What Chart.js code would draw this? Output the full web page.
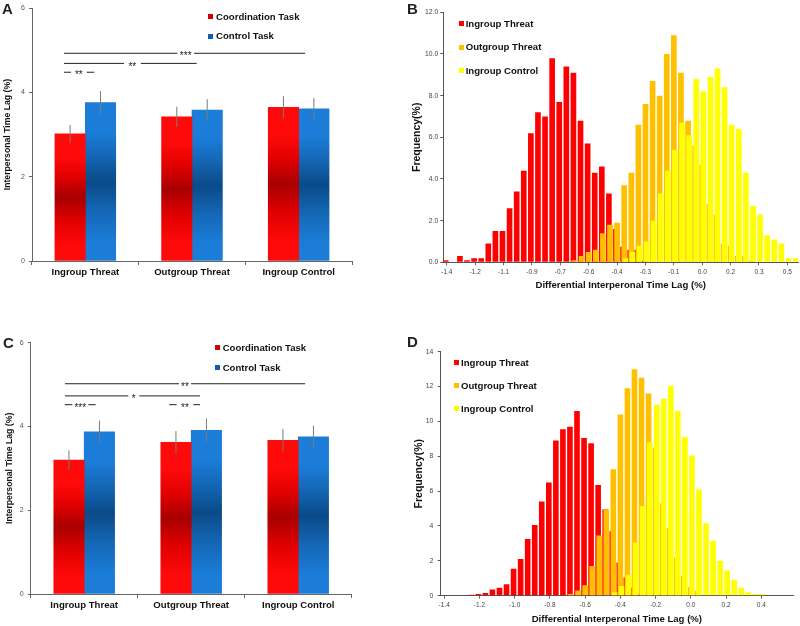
<!DOCTYPE html>
<html>
<head>
<meta charset="utf-8">
<script src="https://cdn.jsdelivr.net/npm/chart.js@4.4.1/dist/chart.umd.min.js"></script>
<style>
  html, body { margin: 0; padding: 0; background: #ffffff; }
  #wrap { position: relative; width: 800px; height: 626px; overflow: hidden; font-family: 'Liberation Sans', Arial, sans-serif; }
  #wrap canvas { position: absolute; }
  .txt { position: absolute; white-space: nowrap; }
  .sq { position: absolute; }
</style>
</head>
<body>
<div id="wrap">
  <canvas id="cA" width="400" height="300" style="left:0px;top:0px;"></canvas>
  <canvas id="cB" width="400" height="300" style="left:400px;top:0px;"></canvas>
  <canvas id="cC" width="400" height="316" style="left:0px;top:310px;"></canvas>
  <canvas id="cD" width="400" height="316" style="left:400px;top:310px;"></canvas>
</div>
<script>
// ---------------- DATA ----------------
const groups = ['Ingroup Threat', 'Outgroup Threat', 'Ingroup Control'];

// Panel A
const coordA = [3.02, 3.42, 3.65];
const controlA = [3.76, 3.58, 3.61];
const coordErrA = [0.21, 0.24, 0.26];
const controlErrA = [0.27, 0.26, 0.26];
const sigA = [
  { y: 4.93, x1: -0.20, gap1: 0.862, gap2: 1.020, x2: 2.060, label: '***' },
  { y: 4.69, x1: -0.20, gap1: 0.362, gap2: 0.520, x2: 1.044, label: '**' },
  { y: 4.48, x1: -0.20, gap1: -0.134, gap2: 0.013, x2: 0.084, label: '**' }
];

// Panel C
const coordC = [3.20, 3.62, 3.67];
const controlC = [3.87, 3.91, 3.75];
const coordErrC = [0.23, 0.27, 0.27];
const controlErrC = [0.27, 0.28, 0.27];
const sigC = [
  { y: 5.02, x1: -0.18, gap1: 0.886, gap2: 0.998, x2: 2.064, label: '**' },
  { y: 4.73, x1: -0.18, gap1: 0.412, gap2: 0.515, x2: 1.082, label: '*' },
  { y: 4.52, x1: -0.18, gap1: -0.111, gap2: 0.038, x2: 0.107, label: '***' },
  { y: 4.52, x1: 0.795, gap1: 0.864, gap2: 1.020, x2: 1.082, label: '**' }
];

// Panel B (histogram bins, %)
const binsB = [-1.370, -1.331, -1.292, -1.253, -1.214, -1.175, -1.136, -1.097, -1.058, -1.019,
  -0.980, -0.941, -0.902, -0.863, -0.824, -0.785, -0.746, -0.707, -0.668, -0.629,
  -0.590, -0.551, -0.512, -0.473, -0.434, -0.395, -0.356, -0.317, -0.278, -0.239,
  -0.200, -0.161, -0.122, -0.083, -0.044, -0.005, 0.034, 0.073, 0.112, 0.151,
  0.190, 0.229, 0.268, 0.307, 0.346, 0.385, 0.424, 0.463, 0.502, 0.541];
const ingroupThreatB = [0.1, 0, 0.3, 0.1, 0.2, 0.2, 0.9, 1.5, 1.5, 2.6,
  3.4, 4.4, 6.2, 7.2, 7.0, 9.8, 7.7, 9.4, 9.1, 6.8,
  5.7, 4.3, 4.6, 3.3, 1.6, 0.75, 0.6, 0.6, 0.1, 0,
  0, 0, 0, 0, 0, 0, 0, 0, 0, 0,
  0, 0, 0, 0, 0, 0, 0, 0, 0, 0];
const outgroupThreatB = [0, 0, 0, 0, 0, 0, 0, 0, 0, 0,
  0, 0, 0, 0, 0, 0, 0, 0, 0.1, 0.3,
  0.5, 0.6, 1.4, 1.8, 1.9, 3.7, 4.3, 6.6, 7.6, 8.7,
  8.0, 10.0, 10.9, 9.1, 6.8, 5.6, 4.7, 2.8, 2.3, 0.9,
  0.8, 0.3, 0.3, 0.1, 0, 0, 0, 0, 0, 0];
const ingroupControlB = [0, 0, 0, 0, 0, 0, 0, 0, 0, 0,
  0, 0, 0, 0, 0, 0, 0, 0, 0, 0,
  0, 0, 0, 0, 0, 0.2, 0.5, 0.8, 1.0, 2.0,
  3.3, 4.4, 5.4, 6.7, 6.1, 8.8, 8.2, 8.9, 9.3, 8.4,
  6.6, 6.4, 4.3, 2.7, 2.3, 1.3, 1.1, 0.9, 0.2, 0.2];
const tickEveryB = 4;

// Panel D (histogram bins, %)
const binsD = [-1.40, -1.36, -1.32, -1.28, -1.24, -1.20, -1.16, -1.12, -1.08, -1.04,
  -1.00, -0.96, -0.92, -0.88, -0.84, -0.80, -0.76, -0.72, -0.68, -0.64,
  -0.60, -0.56, -0.52, -0.48, -0.44, -0.40, -0.36, -0.32, -0.28, -0.24,
  -0.20, -0.16, -0.12, -0.08, -0.04, 0.00, 0.04, 0.08, 0.12, 0.16,
  0.20, 0.24, 0.28, 0.32, 0.36, 0.40, 0.44, 0.48, 0.52, 0.56];
const ingroupThreatD = [0, 0, 0, 0, 0.05, 0.1, 0.15, 0.35, 0.45, 0.65,
  1.55, 2.1, 3.25, 4.05, 5.4, 6.5, 8.9, 9.55, 9.7, 10.6,
  9.05, 8.75, 6.35, 4.95, 3.7, 1.9, 1.05, 0.45, 0.1, 0,
  0, 0, 0, 0, 0, 0, 0, 0, 0, 0,
  0, 0, 0, 0, 0, 0, 0, 0, 0, 0];
const outgroupThreatD = [0, 0, 0, 0, 0, 0, 0, 0, 0, 0,
  0, 0, 0, 0, 0, 0, 0, 0, 0.1, 0.3,
  0.6, 1.7, 3.45, 4.95, 7.25, 10.4, 11.9, 13.0, 12.5, 11.6,
  8.5, 5.3, 3.9, 2.2, 1.15, 0.5, 0.3, 0, 0, 0,
  0, 0, 0, 0, 0, 0, 0, 0, 0, 0];
const ingroupControlD = [0, 0, 0, 0, 0, 0, 0, 0, 0, 0,
  0, 0, 0, 0, 0, 0, 0, 0, 0, 0,
  0, 0, 0, 0, 0.2, 0.55, 1.2, 3.05, 5.15, 8.8,
  10.95, 11.3, 12.05, 10.6, 9.1, 8.05, 6.1, 4.15, 3.15, 2.0,
  1.45, 0.9, 0.45, 0.2, 0.1, 0.1, 0, 0, 0, 0];
const tickEveryD = 5;

const histSeries = ['Ingroup Threat', 'Outgroup Threat', 'Ingroup Control'];
const taskSeries = ['Coordination Task', 'Control Task'];

// ---------------- STYLE ----------------
const FONT = "'Liberation Sans', Arial, sans-serif";
const RED = '#ff0000', ORANGE = '#ffc000', YELLOW = '#ffff00';
const AXIS = '#666666';
const CAT_PCT = 0.57;           // share of each category taken by the bar pair
const BAR_W = 30.4;             // bar thickness in px
Chart.defaults.font.family = FONT;

function gradientFill(light, mid, dark) {
  return function (c) {
    const chart = c.chart;
    const ys = chart.scales ? chart.scales.y : null;
    if (c.type !== 'data' || !ys || typeof c.raw !== 'number') return light;
    const top = ys.getPixelForValue(c.raw);
    const base = ys.getPixelForValue(0);
    if (!isFinite(top) || !isFinite(base) || base - top < 1) return light;
    const g = chart.ctx.createLinearGradient(0, top, 0, base);
    g.addColorStop(0, light);
    g.addColorStop(0.18, light);
    g.addColorStop(0.34, mid);
    g.addColorStop(0.5, dark);
    g.addColorStop(0.68, mid);
    g.addColorStop(0.88, light);
    g.addColorStop(1, light);
    return g;
  };
}

// draw datasets first-to-last so later series sit on top (Excel overlap look)
const drawForward = {
  id: 'drawForward',
  beforeDatasetsDraw(chart) {
    if (typeof chart._drawDataset !== 'function') return;
    const metas = chart.getSortedVisibleDatasetMetas();
    for (const meta of metas) chart._drawDataset(meta);
    return false;
  }
};

// error bar as vertical segments centred on each bar of a 2-bar group
function errorLine(values, errs, slot) {
  const shift = (slot - 0.5) * CAT_PCT / 2;
  const pts = [];
  values.forEach((v, i) => {
    pts.push({ x: i + shift, y: v - errs[i] }, { x: i + shift, y: v + errs[i] }, { x: i + shift, y: null });
  });
  return { type: 'line', xAxisID: 'xl', yAxisID: 'y', data: pts, borderColor: '#7a7a7a', borderWidth: 1,
           pointRadius: 0, spanGaps: false, fill: false };
}

function barPanel(canvasId, coord, control, coordErr, controlErr, sig, g) {
  const datasets = [
    errorLine(coord, coordErr, 0),
    errorLine(control, controlErr, 1),
    { type: 'bar', xAxisID: 'x', yAxisID: 'y', label: taskSeries[0], data: coord,
      backgroundColor: gradientFill('#ff0a0a', '#e00000', '#a80000'), barThickness: BAR_W },
    { type: 'bar', xAxisID: 'x', yAxisID: 'y', label: taskSeries[1], data: control,
      backgroundColor: gradientFill('#1b7dd8', '#1466b4', '#0a4a88'), barThickness: BAR_W }
  ];
  sig.forEach(s => datasets.push({
    type: 'line', xAxisID: 'xl', yAxisID: 'y',
    data: [{ x: s.x1, y: s.y }, { x: s.gap1, y: s.y }, { x: (s.gap1 + s.gap2) / 2, y: null },
           { x: s.gap2, y: s.y }, { x: s.x2, y: s.y }],
    borderColor: '#222222', borderWidth: 1, pointRadius: 0, spanGaps: false, fill: false
  }));
  return new Chart(document.getElementById(canvasId), {
    type: 'bar',
    data: { labels: groups, datasets },
    options: {
      responsive: false, animation: false, events: [],
      layout: { padding: g.padding },
      plugins: { legend: { display: false }, tooltip: { enabled: false } },
      scales: {
        x: {
          type: 'category', offset: true,
          grid: { offset: true, drawOnChartArea: false, drawTicks: true, tickLength: 4, color: AXIS },
          border: { display: true, color: AXIS, width: 1 },
          ticks: { font: { size: 9.6, weight: 'bold' }, color: '#111', padding: 1.5, maxRotation: 0, autoSkip: false },
          afterFit: s => { s.height = g.xh; }
        },
        xl: { type: 'linear', display: false, offset: false, grid: { offset: false }, min: -0.5, max: 2.5 },
        y: {
          min: 0, max: 6,
          ticks: { stepSize: 2, font: { size: 7 }, color: '#555', padding: 4 },
          grid: { drawOnChartArea: false, tickLength: 3, color: AXIS },
          border: { display: true, color: AXIS, width: 1 },
          title: { display: true, text: 'Interpersonal Time Lag (%)', font: { size: 8.7, weight: 'bold' },
                   color: '#111', padding: { top: g.titlePad, bottom: 0 } },
          afterFit: s => { s.width = g.yw; }
        }
      }
    }
  });
}

function histPanel(canvasId, bins, s1, s2, s3, every, ymax, yfmt, g) {
  return new Chart(document.getElementById(canvasId), {
    type: 'bar',
    data: {
      labels: bins,
      datasets: [
        { label: histSeries[0], data: s1, backgroundColor: RED },
        { label: histSeries[1], data: s2, backgroundColor: ORANGE },
        { label: histSeries[2], data: s3, backgroundColor: YELLOW }
      ]
    },
    plugins: [drawForward],
    options: {
      responsive: false, animation: false, events: [],
      layout: { padding: g.padding },
      datasets: { bar: { categoryPercentage: 0.47, barPercentage: 5.1 } },
      plugins: { legend: { display: false }, tooltip: { enabled: false } },
      scales: {
        x: {
          type: 'category', offset: true,
          grid: { offset: false, drawOnChartArea: false, drawTicks: true, tickLength: 3,
                  color: c => (c.index % every === 0 ? AXIS : 'rgba(0,0,0,0)') },
          border: { display: true, color: '#555', width: 1 },
          ticks: {
            font: { size: 6.5 }, color: '#444', padding: 2.6, maxRotation: 0, minRotation: 0, autoSkip: false,
            callback: function (v, i) { return i % every === 0 ? Number(this.getLabelForValue(v)).toFixed(1) : ''; }
          },
          title: { display: true, text: 'Differential Interperonal Time Lag (%)', font: { size: 9.6, weight: 'bold' },
                   color: '#111', padding: { top: 0, bottom: g.xtPad } },
          afterFit: s => { s.height = g.xh; }
        },
        y: {
          min: 0, max: ymax,
          ticks: { stepSize: 2, font: { size: 6.8 }, color: '#444', padding: g.ytp,
                   callback: v => yfmt(v) },
          grid: { drawOnChartArea: false, tickLength: 3, color: '#555' },
          border: { display: true, color: '#555', width: 1 },
          title: { display: true, text: 'Frequency(%)', font: { size: 10.5, weight: 'bold' },
                   color: '#111', padding: { top: g.titlePad, bottom: 0 } },
          afterFit: s => { s.width = g.yw; }
        }
      }
    }
  });
}

const chartA = barPanel('cA', coordA, controlA, coordErrA, controlErrA, sigA,
  { padding: { top: 5.3, right: 48, bottom: 9, left: 0 }, xh: 30, yw: 32, titlePad: 2.8 });
const chartC = barPanel('cC', coordC, controlC, coordErrC, controlErrC, sigC,
  { padding: { top: 32.7, right: 48.3, bottom: 2, left: 0 }, xh: 30, yw: 30.7, titlePad: 4.7 });
const chartB = histPanel('cB', binsB, ingroupThreatB, outgroupThreatB, ingroupControlB, tickEveryB, 12,
  v => v.toFixed(1),
  { padding: { top: 12.3, right: 2, bottom: 8.7, left: 0 }, xh: 29, yw: 43.3, titlePad: 10.4, xtPad: 0.5, ytp: 2 });
const chartD = histPanel('cD', binsD, ingroupThreatD, outgroupThreatD, ingroupControlD, tickEveryD, 14,
  v => String(v),
  { padding: { top: 41.7, right: 7, bottom: 0.3, left: 0 }, xh: 30, yw: 40.7, titlePad: 13, xtPad: 0.6, ytp: 4.4 });

// ---------------- TEXT OVERLAYS ----------------
const wrap = document.getElementById('wrap');
function addText(text, x, cy, size, weight, color, center) {
  const s = document.createElement('span');
  s.className = 'txt';
  s.textContent = text;
  s.style.fontSize = size + 'px';
  s.style.lineHeight = (size * 1.2) + 'px';
  s.style.fontWeight = weight;
  s.style.color = color;
  s.style.left = x + 'px';
  s.style.top = (cy - size * 0.6) + 'px';
  if (center) s.style.transform = 'translateX(-50%)';
  wrap.appendChild(s);
}
function addSquare(x, cy, color) {
  const d = document.createElement('div');
  d.className = 'sq';
  d.style.left = x + 'px';
  d.style.top = (cy - 2.5) + 'px';
  d.style.width = '5px';
  d.style.height = '5px';
  d.style.background = color;
  wrap.appendChild(d);
}
function legend(names, colors, sqx, tx, rows) {
  names.forEach((n, i) => { addSquare(sqx, rows[i], colors[i]); addText(n, tx, rows[i], 9.6, 'bold', '#111'); });
}
legend(taskSeries, ['#d40000', '#0d5fb0'], 208.3, 216, [16.7, 36]);
legend(taskSeries, ['#d40000', '#0d5fb0'], 215, 222.7, [347.7, 367.3]);
legend(histSeries, [RED, ORANGE, YELLOW], 459, 465.7, [23.3, 47, 70.7]);
legend(histSeries, [RED, ORANGE, YELLOW], 454.3, 461, [362.3, 385.7, 408.7]);

function sigText(chart, sig, offX, offY) {
  const xs = chart.scales.xl, ys = chart.scales.y;
  sig.forEach(s => {
    const px = xs.getPixelForValue((s.gap1 + s.gap2) / 2) + offX;
    const py = ys.getPixelForValue(s.y) + offY;
    addText(s.label, px, py + 3.2, 10, 'normal', '#222', true);
  });
}
sigText(chartA, sigA, 0, 0);
sigText(chartC, sigC, 0, 310);

addText('A', 2, 9, 15, 'bold', '#222');
addText('B', 407, 8.7, 15, 'bold', '#222');
addText('C', 3, 342.5, 15, 'bold', '#222');
addText('D', 407, 341.7, 15, 'bold', '#222');
</script>
</body>
</html>
